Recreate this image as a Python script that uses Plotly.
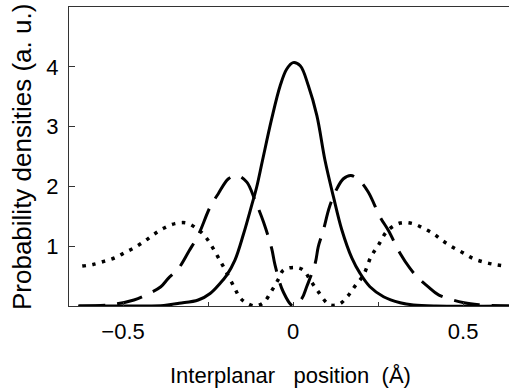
import plotly.graph_objects as go

# Ground state (solid)
x_solid = [-0.632, -0.45, -0.38, -0.335, -0.279, -0.244, -0.215, -0.195, -0.171, -0.146, -0.121,
           -0.107, -0.090, -0.063, -0.038, -0.019, 0.0, 0.021, 0.045, 0.070, 0.094, 0.119, 0.143,
           0.173, 0.197, 0.226, 0.266, 0.315, 0.354, 0.42, 0.635]
y_solid = [0.0, 0.0, 0.01, 0.045, 0.10, 0.21, 0.378, 0.517, 0.767, 1.20, 1.70,
           1.99, 2.433, 3.128, 3.683, 3.96, 4.07, 4.017, 3.683, 3.183, 2.433, 1.82, 1.28,
           0.80, 0.545, 0.322, 0.155, 0.055, 0.017, 0.0, 0.0]

# First excited state (dashed)
x_dash = [-0.629, -0.541, -0.468, -0.433, -0.389, -0.367, -0.337, -0.306, -0.279, -0.244, -0.220,
          -0.190, -0.164, -0.136, -0.112, -0.087, -0.063, -0.053, -0.029, 0.0, 0.026, 0.040,
          0.065, 0.074, 0.089, 0.107, 0.129, 0.148, 0.170, 0.195, 0.221, 0.256, 0.280, 0.315,
          0.344, 0.369, 0.395, 0.429, 0.503, 0.55, 0.635]
y_dash = [0.0, 0.017, 0.10, 0.183, 0.322, 0.462, 0.628, 0.92, 1.183, 1.655, 1.878,
          2.128, 2.183, 2.072, 1.767, 1.405, 0.962, 0.683, 0.238, 0.0, 0.128, 0.322,
          0.712, 0.988, 1.267, 1.655, 1.962, 2.128, 2.183, 2.10, 1.905, 1.488, 1.267, 0.878,
          0.628, 0.462, 0.333, 0.183, 0.055, 0.02, 0.0]

# Second excited state (dotted)
x_dot = [-0.620, -0.588, -0.554, -0.524, -0.494, -0.464, -0.433, -0.409, -0.379, -0.347, -0.314,
         -0.283, -0.259, -0.239, -0.221, -0.202, -0.173, -0.156, -0.139, -0.112, -0.087, -0.063,
         -0.043, -0.0285, 0.006, 0.030, 0.052, 0.074, 0.107, 0.136, 0.161, 0.182, 0.207, 0.229,
         0.251, 0.277, 0.315, 0.352, 0.385, 0.415, 0.441, 0.471, 0.5, 0.529, 0.559, 0.592, 0.626]
y_dot = [0.667, 0.695, 0.75, 0.805, 0.895, 0.983, 1.10, 1.20, 1.305, 1.378, 1.388,
         1.295, 1.167, 1.0, 0.822, 0.628, 0.312, 0.138, 0.055, 0.0, 0.055, 0.255,
         0.45, 0.60, 0.645, 0.60, 0.42, 0.24, 0.02, 0.033, 0.167, 0.333, 0.517, 0.822,
         1.017, 1.255, 1.388, 1.378, 1.295, 1.2, 1.088, 0.978, 0.888, 0.795, 0.738, 0.695, 0.667]

x_tickvals = [-0.5, -0.25, 0, 0.25, 0.5]
x_ticktext = ["\u22120.5", "", "0", "", "0.5"]
y_tickvals = [1, 2, 3, 4]
y_ticktext = ["1", "2", "3", "4"]

x_title = "Interplanar\u00a0\u00a0\u00a0position\u00a0\u00a0(Å)"
y_title = "Probability densities (a. u.)"

fig = go.Figure()
fig.add_trace(go.Scatter(x=x_dot, y=y_dot, mode="lines",
                         line=dict(color="black", width=3.5, dash="3.5px,6.5px", shape="spline")))
fig.add_trace(go.Scatter(x=x_dash, y=y_dash, mode="lines",
                         line=dict(color="black", width=3, dash="26px,12px", shape="spline")))
fig.add_trace(go.Scatter(x=x_solid, y=y_solid, mode="lines",
                         line=dict(color="black", width=3, shape="spline")))

font = "Liberation Sans, Arial, sans-serif"
fig.update_layout(
    width=509, height=392,
    margin=dict(l=69, r=0, t=7, b=86),
    paper_bgcolor="white", plot_bgcolor="white",
    showlegend=False,
    font=dict(family=font, color="black"),
    xaxis=dict(range=[-0.659, 0.635], tickvals=x_tickvals, ticktext=x_ticktext,
               ticks="inside", ticklen=4, tickcolor="#333", showgrid=False, zeroline=False,
               showline=True, linecolor="#333", linewidth=1, mirror=True,
               tickfont=dict(size=22), ticklabelstandoff=6),
    yaxis=dict(range=[0, 5], tickvals=y_tickvals, ticktext=y_ticktext,
               ticks="inside", ticklen=6, tickcolor="#333", showgrid=False, zeroline=False,
               showline=True, linecolor="#333", linewidth=1,
               tickfont=dict(size=22), ticklabelstandoff=5),
    annotations=[
        dict(text=y_title, xref="paper", yref="paper",
             x=-0.107, y=0.498, textangle=-90, showarrow=False,
             font=dict(size=26, family=font), xanchor="center", yanchor="middle"),
        dict(text=x_title, xref="paper", yref="paper",
             x=0.503, y=-0.231, showarrow=False,
             font=dict(size=22, family=font), xanchor="center", yanchor="middle"),
    ],
)
fig.write_html("out.html")
